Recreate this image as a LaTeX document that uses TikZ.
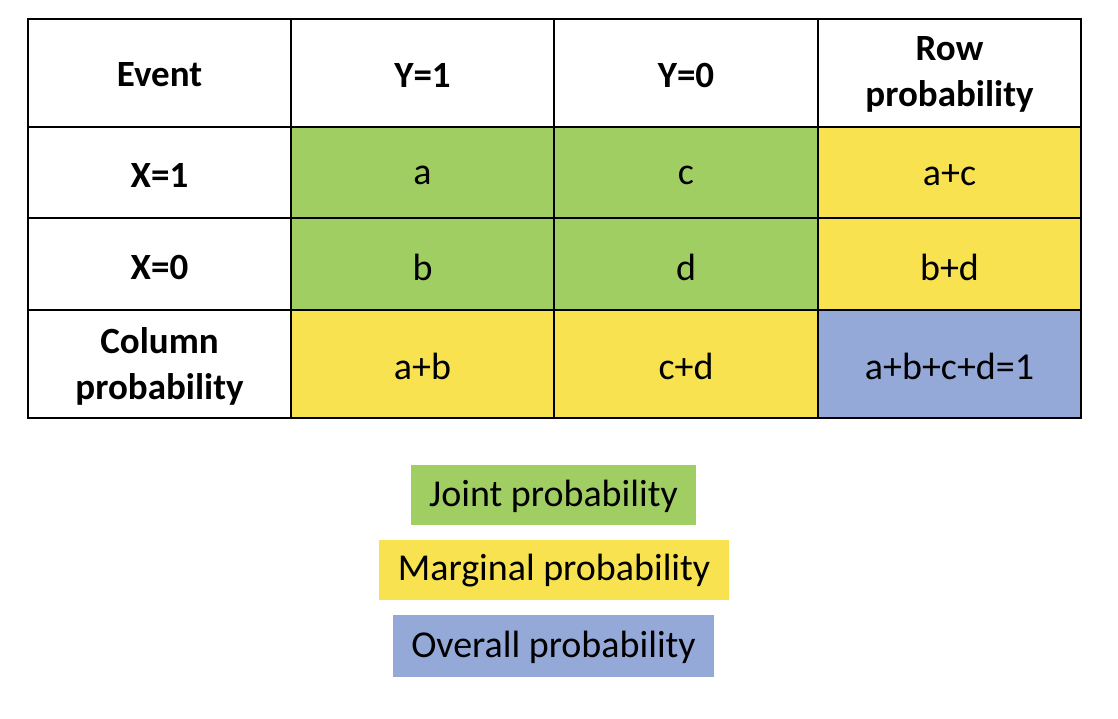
\documentclass[tikz,border=0pt]{standalone}
\usepackage{fontspec}
\setmainfont{Carlito}
\definecolor{gr}{HTML}{A0CE63}
\definecolor{ye}{HTML}{F8E24F}
\definecolor{bl}{HTML}{94A9D8}
\begin{document}
\begin{tikzpicture}[x=1pt,y=-1pt,
  cell/.style={font=\fontsize{38}{46}\selectfont,align=center},
  hd/.style={font=\bfseries\fontsize{37}{46}\selectfont,align=center},
  leg/.style={font=\fontsize{38}{46}\selectfont,inner sep=0pt,anchor=center}]
\useasboundingbox (0,0) rectangle (1118,718);
\fill[gr] (291,127) rectangle (818,310);
\fill[ye] (818,127) rectangle (1081,310);
\fill[ye] (291,310) rectangle (818,418);
\fill[bl] (818,310) rectangle (1081,418);
\draw[line width=1.5pt] (28,19) rectangle (1081,418);
\foreach \x in {291,554,818} \draw[line width=1.2pt] (\x,19) -- (\x,418);
\foreach \y in {127,218,310} \draw[line width=1.2pt] (28,\y) -- (1081,\y);
\node[hd] (h0) at (159.5,75) {Event};
\node[hd] (h1) at (422.5,75) {Y=1};
\node[hd] (h2) at (686,75) {Y=0};
\node[hd] (h3) at (949.5,74) {Row\\probability};
\node[hd] (r1) at (159.5,175) {X=1};
\node[hd] (r2) at (159.5,267) {X=0};
\node[hd] (r3) at (159.5,366) {Column\\probability};
\node[cell] (a) at (422.5,175) {a};
\node[cell] (c) at (686,175) {c};
\node[cell] (ac) at (949.5,175) {a+c};
\node[cell] (b) at (422.5,267) {b};
\node[cell] (d) at (686,267) {d};
\node[cell] (bd) at (949.5,267) {b+d};
\node[cell] (ab) at (422.5,366) {a+b};
\node[cell] (cd) at (686,366) {c+d};
\node[cell] (all) at (949.5,366) {a+b+c+d=1};
\fill[gr] (411,465) rectangle (696,525);
\node[leg] (l1) at (553.5,496) {Joint probability};
\fill[ye] (379,540) rectangle (729,600);
\node[leg] (l2) at (554,571) {Marginal probability};
\fill[bl] (393,615) rectangle (714,677);
\node[leg] (l3) at (553.5,647) {Overall probability};
\end{tikzpicture}
\end{document}
